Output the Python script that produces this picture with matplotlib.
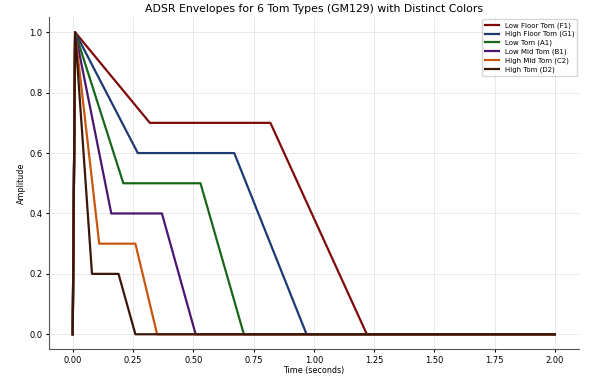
import matplotlib
matplotlib.use("Agg")
import matplotlib.pyplot as plt

labels = ["Low Floor Tom (F1)", "High Floor Tom (G1)", "Low Tom (A1)",
          "Low Mid Tom (B1)", "High Mid Tom (C2)", "High Tom (D2)"]
colors = ["#7f0a0a", "#1c3a70", "#17661a", "#4a1670", "#c8560e", "#3a1608"]
# envelope breakpoints (time, amplitude)
times = [
    [0.0, 0.01, 0.32, 0.82, 1.22, 2.0],
    [0.0, 0.01, 0.27, 0.67, 0.97, 2.0],
    [0.0, 0.01, 0.21, 0.53, 0.71, 2.0],
    [0.0, 0.01, 0.16, 0.37, 0.51, 2.0],
    [0.0, 0.01, 0.11, 0.26, 0.35, 2.0],
    [0.0, 0.01, 0.08, 0.19, 0.26, 2.0],
]
amps = [
    [0.0, 1.0, 0.7, 0.7, 0.0, 0.0],
    [0.0, 1.0, 0.6, 0.6, 0.0, 0.0],
    [0.0, 1.0, 0.5, 0.5, 0.0, 0.0],
    [0.0, 1.0, 0.4, 0.4, 0.0, 0.0],
    [0.0, 1.0, 0.3, 0.3, 0.0, 0.0],
    [0.0, 1.0, 0.2, 0.2, 0.0, 0.0],
]
xticks = [0.0, 0.25, 0.5, 0.75, 1.0, 1.25, 1.5, 1.75, 2.0]
yticks = [0.0, 0.2, 0.4, 0.6, 0.8, 1.0]

fig = plt.figure(figsize=(6, 3.81), dpi=100)
ax = fig.add_axes([0.081, 0.083, 0.884, 0.872])
for t, a, lab, c in zip(times, amps, labels, colors):
    ax.plot(t, a, color=c, lw=1.6, label=lab)

ax.set_xticks(xticks)
ax.set_yticks(yticks)
ax.tick_params(labelsize=6, length=2.5, width=0.8, pad=2)
ax.set_xlabel("Time (seconds)", fontsize=5.8, labelpad=1)
ax.set_ylabel("Amplitude", fontsize=5.8, labelpad=2)
ax.set_title("ADSR Envelopes for 6 Tom Types (GM129) with Distinct Colors", fontsize=7.8, pad=3.5)
ax.grid(True, color="#e0e0e0", lw=0.5)
for s in ["top", "right"]:
    ax.spines[s].set_visible(False)
for s in ["left", "bottom"]:
    ax.spines[s].set_color("#555555")
ax.legend(loc="upper right", fontsize=5, frameon=True, handlelength=2.0,
          borderaxespad=0.3, labelspacing=0.35)
fig.savefig("out.png", dpi=100)
